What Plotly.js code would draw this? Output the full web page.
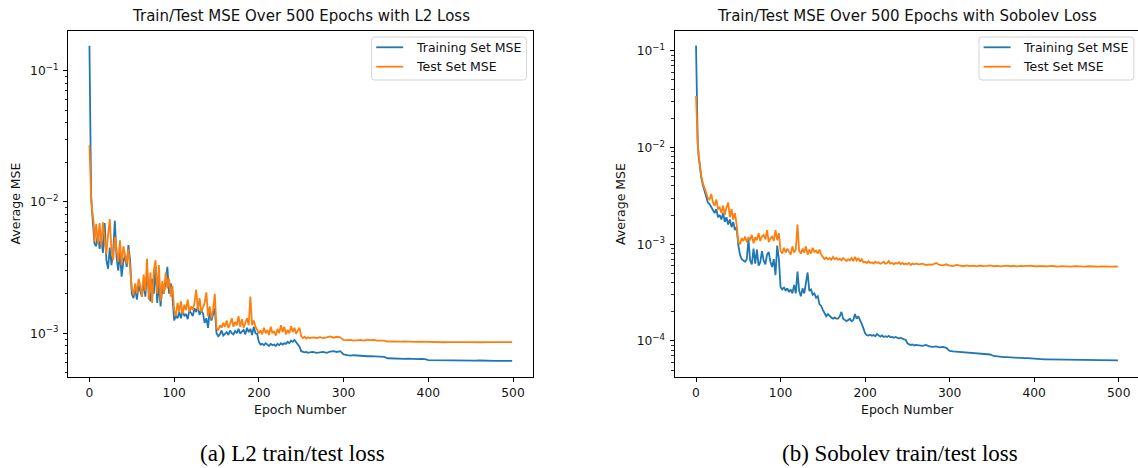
<!DOCTYPE html>
<html>
<head>
<meta charset="utf-8">
<script src="https://cdn.plot.ly/plotly-3.0.1.min.js"></script>
<style>html,body{margin:0;padding:0;background:#fff;}#chart{width:1138px;height:468px;}</style>
</head>
<body>
<div id="chart"></div>
<script>
// Epoch sampling: 0-6 every epoch, 8-260 every 2, 264-496 every 4, then 499
const epochs = [];
for (let e = 0; e <= 6; e++) epochs.push(e);
for (let e = 8; e <= 260; e += 2) epochs.push(e);
for (let e = 264; e <= 496; e += 4) epochs.push(e);
epochs.push(499);

const seriesNames = ['Training Set MSE', 'Test Set MSE'];
const panelTitles = ['Train/Test MSE Over 500 Epochs with L2 Loss', 'Train/Test MSE Over 500 Epochs with Sobolev Loss'];
const captions = ['(a) L2 train/test loss', '(b) Sobolev train/test loss'];
const xTicks = [0, 100, 200, 300, 400, 500];
const yTicksL2 = [1e-3, 1e-2, 1e-1];
const yTickTextL2 = ['10<sup>−3</sup>', '10<sup>−2</sup>', '10<sup>−1</sup>'];
const yTicksSob = [1e-4, 1e-3, 1e-2, 1e-1];
const yTickTextSob = ['10<sup>−4</sup>', '10<sup>−3</sup>', '10<sup>−2</sup>', '10<sup>−1</sup>'];

const l2Train = [
  0.155, 1.6e-2, 1.1e-2, 8.6e-3, 7.3e-3, 6.0e-3, 4.8e-3,
  4.6e-3, 5.8e-3, 4.4e-3, 5.3e-3, 4.1e-3, 6.9e-3, 3.6e-3, 3.1e-3, 4.5e-3, 3.3e-3,
  4.2e-3, 7.2e-3, 3.8e-3, 3.0e-3, 4.1e-3, 2.7e-3, 3.5e-3, 3.9e-3, 3.2e-3, 4.7e-3,
  3.6e-3, 2.0e-3, 1.85e-3, 2.2e-3, 1.8e-3, 2.3e-3, 2.1e-3, 1.9e-3, 2.5e-3, 1.9e-3,
  3.0e-3, 2.1e-3, 1.75e-3, 2.6e-3, 2.0e-3, 3.3e-3, 1.7e-3, 2.4e-3, 1.6e-3, 2.2e-3,
  2.0e-3, 2.7e-3, 3.2e-3, 2.0e-3, 2.4e-3, 1.9e-3, 1.25e-3, 1.35e-3, 1.3e-3, 1.45e-3,
  1.3e-3, 1.5e-3, 1.35e-3, 1.4e-3, 1.28e-3, 1.5e-3, 1.4e-3, 1.35e-3, 1.55e-3, 1.45e-3,
  1.6e-3, 1.38e-3, 1.5e-3, 1.42e-3, 1.2e-3, 1.3e-3, 1.1e-3, 1.5e-3, 1.25e-3, 1.4e-3,
  1.55e-3, 1.0e-3, 9.5e-4, 9.8e-4, 1.05e-3, 9.6e-4, 1.0e-3, 1.02e-3, 9.7e-4, 1.05e-3,
  1.0e-3, 9.8e-4, 1.04e-3, 1.0e-3, 1.08e-3, 9.9e-4, 1.03e-3, 1.06e-3, 9.8e-4, 1.1e-3,
  1.02e-3, 1.08e-3, 9.7e-4, 1.12e-3, 1.0e-3, 9.9e-4, 8.6e-4, 8.2e-4, 8.3e-4, 8.1e-4,
  8.4e-4, 8.2e-4, 8.0e-4, 8.3e-4, 8.1e-4, 8.2e-4, 8.0e-4, 8.3e-4, 8.1e-4, 8.4e-4,
  8.2e-4, 8.4e-4, 8.3e-4, 8.6e-4, 8.4e-4, 8.8e-4, 8.6e-4, 8.9e-4, 8.5e-4, 8.3e-4,
  7.9e-4, 7.3e-4, 7.2e-4, 7.15e-4, 7.2e-4, 7.1e-4, 7.15e-4,
  7.2e-4, 7.1e-4, 7.15e-4, 7.2e-4, 7.1e-4, 7.25e-4, 7.3e-4, 7.2e-4, 7.3e-4, 6.9e-4,
  6.8e-4, 6.75e-4, 6.8e-4, 6.75e-4, 6.7e-4, 6.72e-4, 6.68e-4, 6.7e-4, 6.66e-4, 6.68e-4,
  6.65e-4, 6.6e-4, 6.45e-4, 6.42e-4, 6.4e-4, 6.42e-4, 6.4e-4, 6.38e-4, 6.4e-4, 6.37e-4,
  6.36e-4, 6.35e-4, 6.38e-4, 6.36e-4, 6.25e-4, 6.24e-4, 6.25e-4, 6.23e-4, 6.24e-4, 6.22e-4,
  6.23e-4, 6.22e-4, 6.23e-4, 6.21e-4, 6.22e-4, 6.2e-4, 6.21e-4, 6.2e-4, 6.19e-4, 6.2e-4,
  6.18e-4, 6.19e-4, 6.17e-4, 6.18e-4, 6.16e-4, 6.17e-4, 6.15e-4, 6.16e-4, 6.15e-4,
  6.15e-4
];

const l2Test = [
  2.7e-2, 1.5e-2, 1.1e-2, 8.8e-3, 7.5e-3, 7.0e-3, 5.0e-3,
  6.8e-3, 4.8e-3, 6.9e-3, 4.6e-3, 7.0e-3, 5.2e-3, 4.0e-3, 5.6e-3, 7.4e-3, 4.3e-3,
  3.6e-3, 5.4e-3, 4.4e-3, 3.5e-3, 5.1e-3, 3.3e-3, 4.6e-3, 3.8e-3, 3.4e-3, 4.4e-3,
  3.0e-3, 2.2e-3, 1.95e-3, 2.4e-3, 2.0e-3, 2.6e-3, 2.3e-3, 1.9e-3, 2.8e-3, 2.1e-3,
  3.7e-3, 1.8e-3, 2.9e-3, 1.7e-3, 3.0e-3, 3.6e-3, 2.0e-3, 3.3e-3, 1.75e-3, 2.5e-3,
  2.0e-3, 2.9e-3, 2.2e-3, 2.6e-3, 1.9e-3, 2.3e-3, 1.5e-3, 1.35e-3, 1.7e-3, 1.45e-3,
  1.75e-3, 1.4e-3, 1.65e-3, 1.5e-3, 1.8e-3, 1.45e-3, 1.6e-3, 1.5e-3, 1.7e-3, 2.15e-3,
  1.5e-3, 1.85e-3, 1.45e-3, 1.6e-3, 1.7e-3, 2.05e-3, 1.35e-3, 1.6e-3, 1.3e-3, 1.5e-3,
  2.0e-3, 1.1e-3, 1.05e-3, 1.15e-3, 1.1e-3, 1.2e-3, 1.12e-3, 1.25e-3, 1.1e-3, 1.18e-3,
  1.3e-3, 1.12e-3, 1.22e-3, 1.15e-3, 1.35e-3, 1.12e-3, 1.28e-3, 1.1e-3, 1.2e-3, 1.3e-3,
  1.15e-3, 1.9e-3, 1.15e-3, 1.25e-3, 1.12e-3, 1.05e-3, 1.0e-3, 1.05e-3, 9.8e-4, 1.1e-3,
  1.0e-3, 1.06e-3, 9.7e-4, 1.12e-3, 1.0e-3, 1.04e-3, 9.6e-4, 1.08e-3, 1.0e-3, 1.15e-3,
  1.02e-3, 1.12e-3, 9.8e-4, 1.06e-3, 1.0e-3, 1.13e-3, 1.02e-3, 1.1e-3, 9.9e-4, 1.05e-3,
  1.1e-3, 9.5e-4, 9.2e-4, 9.4e-4, 9.1e-4, 9.3e-4, 9.2e-4,
  9.3e-4, 9.2e-4, 9.35e-4, 9.2e-4, 9.3e-4, 9.45e-4, 9.25e-4, 9.4e-4, 9.3e-4, 8.9e-4,
  8.85e-4, 8.9e-4, 8.8e-4, 8.85e-4, 8.9e-4, 8.8e-4, 8.95e-4, 8.85e-4, 8.9e-4, 8.8e-4,
  8.85e-4, 8.8e-4, 8.65e-4, 8.62e-4, 8.66e-4, 8.6e-4, 8.64e-4, 8.68e-4, 8.62e-4, 8.66e-4,
  8.6e-4, 8.64e-4, 8.62e-4, 8.65e-4, 8.57e-4, 8.55e-4, 8.58e-4, 8.55e-4, 8.57e-4, 8.54e-4,
  8.57e-4, 8.55e-4, 8.56e-4, 8.54e-4, 8.56e-4, 8.55e-4, 8.57e-4, 8.54e-4, 8.56e-4, 8.55e-4,
  8.54e-4, 8.56e-4, 8.55e-4, 8.53e-4, 8.55e-4, 8.54e-4, 8.56e-4, 8.54e-4, 8.55e-4,
  8.55e-4
];

const sobTrain = [
  0.113, 1.6e-2, 1.1e-2, 8.3e-3, 6.8e-3, 5.8e-3, 5.0e-3,
  4.1e-3, 3.5e-3, 3.1e-3, 2.7e-3, 2.6e-3, 2.4e-3, 2.2e-3, 2.1e-3, 2.3e-3, 1.9e-3,
  2.0e-3, 1.8e-3, 2.1e-3, 1.7e-3, 1.9e-3, 1.6e-3, 1.8e-3, 1.5e-3, 1.7e-3, 1.4e-3,
  1.5e-3, 9.8e-4, 7.8e-4, 7.0e-4, 6.8e-4, 6.6e-4, 7.0e-4, 1.12e-3, 6.8e-4, 6.2e-4,
  9.0e-4, 6.3e-4, 8.8e-4, 6.0e-4, 6.5e-4, 8.5e-4, 6.8e-4, 6.2e-4, 7.8e-4, 8.3e-4,
  6.6e-4, 5.8e-4, 7.0e-4, 4.8e-4, 9.7e-4, 7.0e-4, 3.6e-4, 3.4e-4, 3.6e-4, 3.3e-4,
  3.5e-4, 3.2e-4, 3.4e-4, 3.1e-4, 3.8e-4, 3.1e-4, 5.2e-4, 3.3e-4, 2.9e-4, 3.5e-4,
  3.1e-4, 3.9e-4, 5.1e-4, 3.3e-4, 3.4e-4, 3.0e-4, 3.1e-4, 2.8e-4, 2.9e-4, 2.4e-4,
  2.3e-4, 2.1e-4, 1.9e-4, 1.8e-4, 1.9e-4, 1.8e-4, 1.75e-4, 1.7e-4, 1.75e-4, 1.7e-4,
  1.7e-4, 1.8e-4, 2.0e-4, 1.7e-4, 1.65e-4, 1.6e-4, 1.65e-4, 1.7e-4, 1.6e-4, 1.65e-4,
  1.9e-4, 1.7e-4, 1.8e-4, 1.6e-4, 1.5e-4, 1.35e-4, 1.2e-4, 1.15e-4, 1.14e-4, 1.16e-4,
  1.13e-4, 1.15e-4, 1.12e-4, 1.18e-4, 1.13e-4, 1.11e-4, 1.14e-4, 1.1e-4, 1.12e-4, 1.1e-4,
  1.13e-4, 1.09e-4, 1.1e-4, 1.08e-4, 1.1e-4, 1.07e-4, 1.06e-4, 1.08e-4, 1.05e-4, 1.04e-4,
  1.03e-4, 9.5e-5, 9.2e-5, 9.1e-5, 9.2e-5, 9.0e-5, 9.1e-5,
  9.0e-5, 8.9e-5, 9.1e-5, 8.8e-5, 8.7e-5, 8.8e-5, 8.6e-5, 8.7e-5, 8.5e-5, 7.9e-5,
  7.8e-5, 7.75e-5, 7.7e-5, 7.65e-5, 7.6e-5, 7.55e-5, 7.5e-5, 7.45e-5, 7.4e-5, 7.35e-5,
  7.3e-5, 7.25e-5, 7.0e-5, 6.9e-5, 6.85e-5, 6.8e-5, 6.8e-5, 6.75e-5, 6.75e-5, 6.7e-5,
  6.7e-5, 6.65e-5, 6.65e-5, 6.6e-5, 6.5e-5, 6.48e-5, 6.47e-5, 6.46e-5, 6.45e-5, 6.44e-5,
  6.43e-5, 6.42e-5, 6.41e-5, 6.4e-5, 6.4e-5, 6.39e-5, 6.38e-5, 6.37e-5, 6.36e-5, 6.35e-5,
  6.35e-5, 6.34e-5, 6.33e-5, 6.33e-5, 6.32e-5, 6.31e-5, 6.3e-5, 6.3e-5, 6.29e-5,
  6.3e-5
];

const sobTest = [
  3.4e-2, 1.6e-2, 1.1e-2, 8.5e-3, 7.0e-3, 6.0e-3, 5.2e-3,
  4.3e-3, 3.8e-3, 3.4e-3, 3.0e-3, 2.9e-3, 3.3e-3, 2.7e-3, 2.5e-3, 2.9e-3, 2.3e-3,
  2.4e-3, 2.1e-3, 2.5e-3, 2.0e-3, 2.4e-3, 2.7e-3, 1.9e-3, 2.3e-3, 1.8e-3, 2.1e-3,
  1.6e-3, 1.05e-3, 1.0e-3, 1.15e-3, 1.08e-3, 1.2e-3, 1.05e-3, 1.18e-3, 1.1e-3, 1.25e-3,
  1.02e-3, 1.18e-3, 1.1e-3, 1.3e-3, 1.08e-3, 1.2e-3, 1.25e-3, 1.12e-3, 1.4e-3, 1.05e-3,
  1.15e-3, 1.2e-3, 1.08e-3, 1.4e-3, 1.1e-3, 1.3e-3, 8.5e-4, 8.0e-4, 9.2e-4, 8.2e-4,
  9.0e-4, 8.5e-4, 7.8e-4, 9.5e-4, 8.2e-4, 8.8e-4, 1.6e-3, 8.5e-4, 8.0e-4, 9.0e-4,
  8.2e-4, 9.5e-4, 7.8e-4, 8.8e-4, 8.0e-4, 9.2e-4, 8.3e-4, 8.6e-4, 8.0e-4, 8.8e-4,
  7.8e-4, 7.4e-4, 7.0e-4, 7.3e-4, 7.0e-4, 7.2e-4, 6.9e-4, 7.4e-4, 7.0e-4, 7.2e-4,
  6.9e-4, 7.1e-4, 6.8e-4, 7.2e-4, 6.9e-4, 6.7e-4, 7.0e-4, 6.8e-4, 7.2e-4, 6.7e-4,
  7.4e-4, 6.8e-4, 7.2e-4, 6.6e-4, 7.0e-4, 6.5e-4, 6.6e-4, 6.4e-4, 6.7e-4, 6.4e-4,
  6.5e-4, 6.3e-4, 6.6e-4, 6.4e-4, 6.5e-4, 6.3e-4, 6.4e-4, 6.6e-4, 6.3e-4, 6.4e-4,
  6.7e-4, 6.3e-4, 6.4e-4, 6.2e-4, 6.4e-4, 6.3e-4, 6.5e-4, 6.2e-4, 6.4e-4, 6.2e-4,
  6.3e-4, 6.2e-4, 6.4e-4, 6.1e-4, 6.3e-4, 6.2e-4, 6.3e-4,
  6.2e-4, 6.3e-4, 6.1e-4, 6.2e-4, 6.15e-4, 6.4e-4, 6.1e-4, 6.05e-4, 6.2e-4, 6.0e-4,
  5.95e-4, 6.1e-4, 5.98e-4, 5.92e-4, 6.05e-4, 5.95e-4, 6.0e-4, 5.9e-4, 6.02e-4, 5.94e-4,
  5.98e-4, 6.05e-4, 5.92e-4, 5.98e-4, 5.9e-4, 5.96e-4, 6.01e-4, 5.92e-4, 5.97e-4, 5.9e-4,
  5.98e-4, 5.93e-4, 5.96e-4, 6.01e-4, 5.92e-4, 5.96e-4, 5.9e-4, 5.95e-4, 5.89e-4, 5.96e-4,
  5.92e-4, 5.88e-4, 5.95e-4, 5.9e-4, 5.94e-4, 5.88e-4, 5.93e-4, 5.89e-4, 5.94e-4, 5.88e-4,
  5.92e-4, 5.88e-4, 5.93e-4, 5.87e-4, 5.91e-4, 5.88e-4, 5.92e-4, 5.87e-4, 5.9e-4,
  5.88e-4
];

[l2Train, l2Test, sobTrain, sobTest].forEach((s, i) => {
  if (s.length !== epochs.length) throw new Error('series ' + i + ' length ' + s.length + ' vs ' + epochs.length);
});

const BLUE = '#1f77b4', ORANGE = '#ff7f0e';
const W = 1138, H = 468;
const px = v => v / W;
const py = v => 1 - v / H;

function minorTicks(lo, hi) {
  const out = [];
  for (let p = lo; p <= hi; p++) for (let m = 2; m <= 9; m++) out.push(m * Math.pow(10, p));
  return out;
}

const traces = [
  {x: epochs, y: l2Train, xaxis: 'x', yaxis: 'y', name: seriesNames[0], type: 'scatter', mode: 'lines', line: {color: BLUE, width: 1.8}},
  {x: epochs, y: l2Test, xaxis: 'x', yaxis: 'y', name: seriesNames[1], type: 'scatter', mode: 'lines', line: {color: ORANGE, width: 1.8}},
  {x: epochs, y: sobTrain, xaxis: 'x2', yaxis: 'y2', name: seriesNames[0], type: 'scatter', mode: 'lines', line: {color: BLUE, width: 1.8}},
  {x: epochs, y: sobTest, xaxis: 'x2', yaxis: 'y2', name: seriesNames[1], type: 'scatter', mode: 'lines', line: {color: ORANGE, width: 1.8}}
];

const TXT = '#111';
const tickFont = {family: 'DejaVu Sans', size: 12.3, color: TXT};
const commonX = {
  tickvals: xTicks, ticks: 'outside', ticklen: 4.4, tickwidth: 1, tickcolor: '#000',
  showline: true, linecolor: '#000', linewidth: 1, mirror: true,
  showgrid: false, zeroline: false, tickfont: tickFont, fixedrange: true
};
const commonY = {
  type: 'log', ticks: 'outside', ticklen: 4.4, tickwidth: 1, tickcolor: '#000',
  showline: true, linecolor: '#000', linewidth: 1,
  showgrid: false, zeroline: false, tickfont: tickFont, ticklabelstandoff: 2, fixedrange: true
};
const yDom = [1 - 376.7 / H, 1 - 31 / H];

function ann(text, x, y, opts) {
  return Object.assign({text: text, x: px(x), y: py(y), xref: 'paper', yref: 'paper',
    xanchor: 'center', yanchor: 'middle', showarrow: false,
    font: {family: 'DejaVu Sans', size: 12.5, color: TXT}}, opts || {});
}

// Legend drawn as shapes + text (box, two line samples, two labels)
function roundRect(l, t, r, b, rad) {
  return 'M' + px(l + rad) + ',' + py(t) + ' L' + px(r - rad) + ',' + py(t) +
    ' Q' + px(r) + ',' + py(t) + ' ' + px(r) + ',' + py(t + rad) +
    ' L' + px(r) + ',' + py(b - rad) +
    ' Q' + px(r) + ',' + py(b) + ' ' + px(r - rad) + ',' + py(b) +
    ' L' + px(l + rad) + ',' + py(b) +
    ' Q' + px(l) + ',' + py(b) + ' ' + px(l) + ',' + py(b - rad) +
    ' L' + px(l) + ',' + py(t + rad) +
    ' Q' + px(l) + ',' + py(t) + ' ' + px(l + rad) + ',' + py(t) + ' Z';
}
const shapes = [];
const legendAnns = [];
[371.6, 979].forEach(left => {
  shapes.push({type: 'path', xref: 'paper', yref: 'paper', path: roundRect(left, 37, left + 154.8, 80, 3),
    fillcolor: 'rgba(255,255,255,0.8)', line: {color: '#d4d4d4', width: 1}, layer: 'above'});
  [[47.3, BLUE, seriesNames[0]], [66.7, ORANGE, seriesNames[1]]].forEach(([yy, col, name]) => {
    shapes.push({type: 'line', xref: 'paper', yref: 'paper', x0: px(left + 4.6), x1: px(left + 31.6),
      y0: py(yy), y1: py(yy), line: {color: col, width: 1.8}, layer: 'above'});
    legendAnns.push(ann(name, left + 41.9, yy, {xanchor: 'left'}));
  });
});

const layout = {
  width: W, height: H,
  margin: {l: 0, r: 0, t: 0, b: 0},
  paper_bgcolor: '#fff', plot_bgcolor: '#fff',
  hovermode: false, showlegend: false,
  font: {family: 'DejaVu Sans', size: 12.5, color: TXT},
  xaxis: Object.assign({}, commonX, {domain: [68.3 / W, 533.3 / W], range: [-24.95, 523.95], anchor: 'y'}),
  yaxis: Object.assign({}, commonY, {domain: yDom, range: [-3.331, -0.698], anchor: 'x', mirror: true,
    tickvals: yTicksL2, ticktext: yTickTextL2,
    minor: {tickvals: minorTicks(-4, -1).filter(v => v < 0.2), ticks: 'outside', ticklen: 2.5, tickwidth: 0.8, tickcolor: '#000', showgrid: false}}),
  xaxis2: Object.assign({}, commonX, {domain: [674.9 / W, 1], range: [-25, 522.8], anchor: 'y2'}),
  yaxis2: Object.assign({}, commonY, {domain: yDom, range: [-4.369, -0.797], anchor: 'x2', mirror: false,
    tickvals: yTicksSob, ticktext: yTickTextSob,
    minor: {tickvals: minorTicks(-5, -1).filter(v => v > 4.3e-5 && v < 0.16), ticks: 'outside', ticklen: 2.5, tickwidth: 0.8, tickcolor: '#000', showgrid: false}}),
  shapes: shapes,
  annotations: [
    ann(panelTitles[0], 300.8, 16, {font: {family: 'DejaVu Sans', size: 15, color: TXT}}),
    ann(panelTitles[1], 907, 16, {font: {family: 'DejaVu Sans', size: 15, color: TXT}}),
    ann('Average MSE', 14.5, 204, {textangle: -90}),
    ann('Average MSE', 620, 204, {textangle: -90}),
    ann('Epoch Number', 300.8, 409.5),
    ann('Epoch Number', 907.5, 409.5),
    ann(captions[0], 292.7, 453, {font: {family: 'Liberation Serif', size: 23, color: '#000'}}),
    ann(captions[1], 899.6, 453, {font: {family: 'Liberation Serif', size: 23, color: '#000'}})
  ].concat(legendAnns)
};

Plotly.newPlot('chart', traces, layout, {staticPlot: true, displayModeBar: false});
</script>
</body>
</html>
